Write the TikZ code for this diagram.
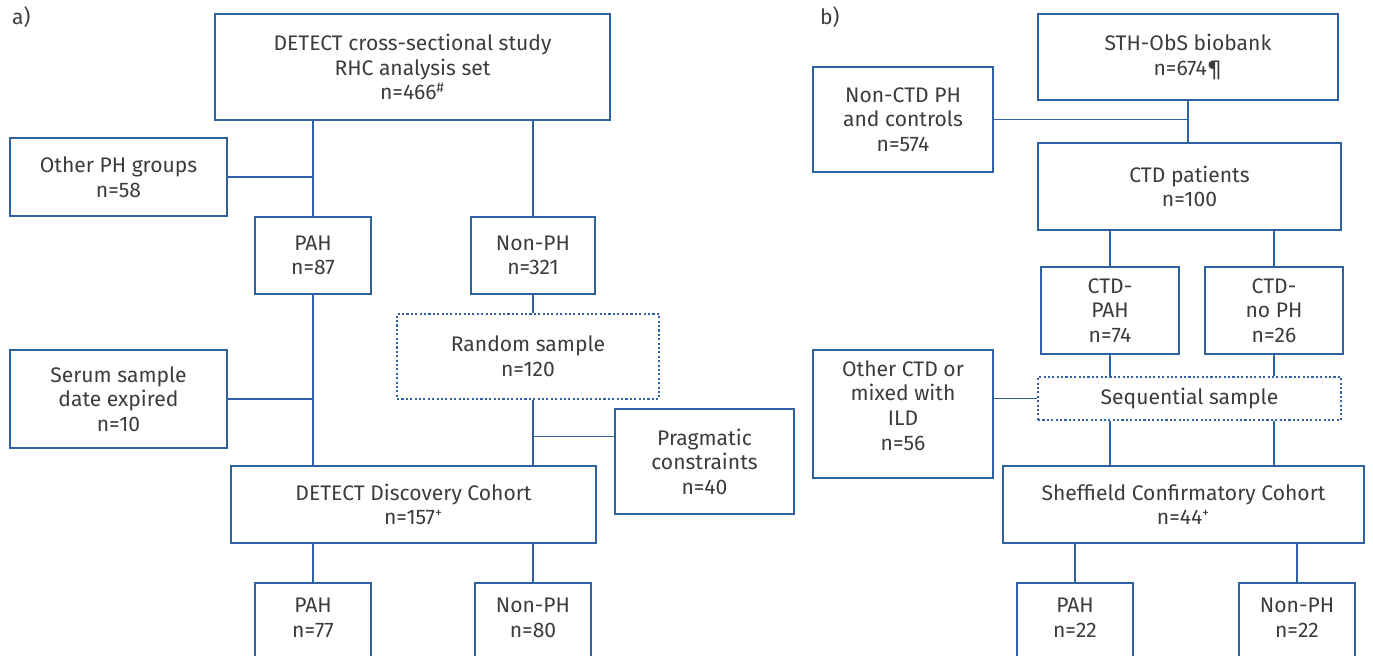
\documentclass[tikz,border=0pt]{standalone}
\usepackage{fontspec}
\setmainfont{Fira Sans}
\usetikzlibrary{calc,positioning}
\definecolor{boxblue}{RGB}{47,98,163}
\definecolor{txtgray}{RGB}{60,60,60}
\tikzset{
  box/.style={draw=boxblue,line width=1pt,align=center,text=txtgray,inner sep=0pt,
    font=\fontsize{12}{14}\selectfont},
  dotbox/.style={box,dash pattern=on 1.2pt off 1.3pt},
  openbox/.style={box,anchor=north,minimum width=2.32cm,inner ysep=0.3cm},
  link/.style={draw=boxblue,line width=1pt},
}

\begin{document}
\begin{tikzpicture}[x=0.02cm,y=-0.02cm]

\useasboundingbox (0,0) rectangle (1373,656);
\clip (0,0) rectangle (1373,656);

%panel a
\node[anchor=west,text=txtgray,font=\fontsize{12}{14}\selectfont] (lbla) at (6,17) {a)};
\node[box,minimum width=7.9cm,minimum height=2.12cm] (cross) at (412.5,67)
  {DETECT cross-sectional study\\RHC analysis set\\n=466\textsuperscript{\#}};
\node[box,minimum width=4.34cm,minimum height=1.56cm] (otherph) at (118.5,177) {Other PH groups\\n=58};
\node[box,minimum width=2.32cm,minimum height=1.54cm] (paha) at (313,255.5) {PAH\\n=87};
\node[box,minimum width=2.48cm,minimum height=1.54cm] (nonpha) at (533,255.5) {Non-PH\\n=321};
\node[dotbox,minimum width=5.24cm,minimum height=1.7cm] (random) at (528,356.5) {Random sample\\n=120};
\node[box,minimum width=4.34cm,minimum height=1.96cm] (serum) at (118.5,399) {Serum sample\\date expired\\n=10};
\node[box,minimum width=3.58cm,minimum height=2.1cm] (pragma) at (704.5,461.5) {Pragmatic\\constraints\\n=40};
\node[box,minimum width=7.3cm,minimum height=1.54cm] (discov) at (413.5,504.5)
  {DETECT Discovery Cohort\\n=157\textsuperscript{+}};
\node[openbox] (pahdisc) at (313,582) {PAH\\n=77\rule[-16pt]{0pt}{0pt}};
\node[openbox] (nonphdisc) at (533,582) {Non-PH\\n=80\rule[-16pt]{0pt}{0pt}};

\draw[link] (cross.south -| paha.north) -- (paha.north);
\draw[link] (otherph.east) -- (otherph.east -| paha.north);
\draw[link] (cross.south -| nonpha.north) -- (nonpha.north);
\draw[link] (nonpha.south) -- (nonpha.south |- random.north);
\draw[link] (paha.south) -- (paha.south |- discov.north);
\draw[link] (serum.east) -- (serum.east -| paha.south);
\draw[link] (random.south -| nonpha.south) -- (discov.north -| nonpha.south);
\draw[link] ([yshift=0.5cm]pragma.west) -- ([yshift=0.5cm]pragma.west -| nonpha.south);
\draw[link] (discov.south -| pahdisc.north) -- (pahdisc.north);
\draw[link] (discov.south -| nonphdisc.north) -- (nonphdisc.north);

%panel b
\node[anchor=west,text=txtgray,font=\fontsize{12}{14}\selectfont] (lblb) at (814,17) {b)};
\node[box,minimum width=6cm,minimum height=1.72cm] (biobank) at (1188,57) {STH-ObS biobank\\n=674\P};
\node[box,minimum width=3.6cm,minimum height=2.1cm] (nonctd) at (903,119.5) {Non-CTD PH\\and controls\\n=574};
\node[box,minimum width=6.06cm,minimum height=1.74cm] (ctd) at (1189.5,186.5) {CTD patients\\n=100};
\node[box,minimum width=2.76cm,minimum height=1.74cm] (ctdpah) at (1110,310.5) {CTD-\\PAH\\n=74};
\node[box,minimum width=2.76cm,minimum height=1.74cm] (ctdnoph) at (1274,310.5) {CTD-\\no PH\\n=26};
\node[box,minimum width=3.6cm,minimum height=2.56cm] (otherctd) at (903,414)
  {Other CTD or\\mixed with\\ILD\\n=56\rule[-10pt]{0pt}{0pt}};
\node[dotbox,minimum width=6.06cm,minimum height=0.86cm] (seqsample) at (1189.5,398.5) {Sequential sample};
\node[box,minimum width=7.22cm,minimum height=1.54cm] (sheff) at (1183.5,504.5)
  {Sheffield Confirmatory Cohort\\n=44\textsuperscript{+}};
\node[openbox] (pahsheff) at (1075,582) {PAH\\n=22\rule[-16pt]{0pt}{0pt}};
\node[openbox] (nonphsheff) at (1297,582) {Non-PH\\n=22\rule[-16pt]{0pt}{0pt}};

\draw[link] (biobank.south) -- (biobank.south |- ctd.north);
\draw[link] (nonctd.east) -- (nonctd.east -| biobank.south);
\draw[link] (ctd.south -| ctdpah.north) -- (ctdpah.north);
\draw[link] (ctd.south -| ctdnoph.north) -- (ctdnoph.north);
\draw[link] (ctdpah.south) -- (ctdpah.south |- seqsample.north);
\draw[link] (ctdnoph.south) -- (ctdnoph.south |- seqsample.north);
\draw[link] (otherctd.east |- seqsample.west) -- (seqsample.west);
\draw[link] (seqsample.south -| ctdpah.south) -- (sheff.north -| ctdpah.south);
\draw[link] (seqsample.south -| ctdnoph.south) -- (sheff.north -| ctdnoph.south);
\draw[link] (sheff.south -| pahsheff.north) -- (pahsheff.north);
\draw[link] (sheff.south -| nonphsheff.north) -- (nonphsheff.north);

\end{tikzpicture}
\end{document}
